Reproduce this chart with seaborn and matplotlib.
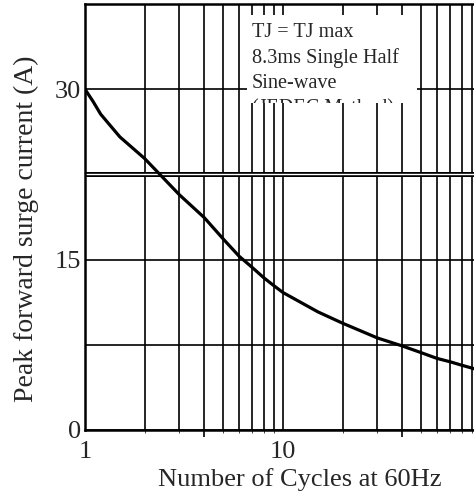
import matplotlib
matplotlib.use("Agg")
import matplotlib.pyplot as plt
import matplotlib.patches as mpatches
import seaborn as sns
import pandas as pd

# Valores
cycles = [1, 1.1, 1.2, 1.5, 2, 3, 4, 5, 6, 7, 8, 9, 10, 15, 20, 30, 40, 50, 60, 70, 80, 90, 100]
current = [30, 28.9, 27.8, 25.8, 23.9, 20.7, 18.7, 16.8, 15.3, 14.3, 13.4, 12.7, 12.1,
           10.4, 9.4, 8.1, 7.4, 6.8, 6.3, 6.0, 5.7, 5.45, 5.2]
y_ticks = [0, 15, 30]
x_ticks = [1, 10, 100]
x_labels = ["1", "10", ""]
note_lines = ["TJ = TJ max", "8.3ms Single Half", "Sine-wave", "(JEDEC Method)"]

sns.set_style("white")
plt.rcParams["font.family"] = ["Liberation Serif", "DejaVu Serif"]

df = pd.DataFrame({"Cycles": cycles, "Current": current})

fig = plt.figure(figsize=(4.74, 4.99), dpi=100)
ax = fig.add_axes([85 / 474, 69 / 499, 396 / 474, 426 / 499])

sns.lineplot(data=df, x="Cycles", y="Current", color="black", linewidth=2.3, ax=ax, zorder=5)

ax.set_xscale("log")
ax.set_xlim(1, 100)
ax.set_ylim(0, 37.5)

# grade
minor = [m * d for d in (1, 10) for m in range(2, 10)]
ax.set_xticks(x_ticks)
ax.set_xticklabels(x_labels)
ax.set_xticks(minor, minor=True)
ax.set_xticklabels([], minor=True)
ax.set_yticks(y_ticks)
ax.set_yticks([7.5, 22.5], minor=True)
ax.grid(True, which="both", color="black", linewidth=1.2)
ax.tick_params(which="both", length=0, labelsize=19)
ax.tick_params(axis="x", pad=8)
ax.tick_params(axis="y", pad=3)
ax.axhline(22.5, color="black", linewidth=3.6, zorder=1)
ax.axhline(22.5, color="white", linewidth=1.0, zorder=1.5)

# marcas em 4 e 40
sec = ax.secondary_xaxis("bottom")
sec.set_xticks([4, 40])
sec.set_xticklabels([])
sec.tick_params(length=5, width=1.2, direction="out", color="black")
sec.spines["bottom"].set_visible(False)

for side in ["left", "bottom", "top"]:
    ax.spines[side].set_color("black")
    ax.spines[side].set_linewidth(1.8)
ax.spines["right"].set_visible(False)

ax.set_xlabel("Number of Cycles at 60Hz", fontsize=19)
ax.set_ylabel("Peak forward surge current (A)", fontsize=20)
ax.xaxis.set_label_coords((300 - 85) / 396, -(468 - 430) / 426)
ax.yaxis.set_label_coords(-(85 - 39) / 396, (430 - 229) / 426)

# caixa de texto
box = mpatches.Rectangle((162 / 396, 327 / 426), 170 / 396, 88 / 426, transform=ax.transAxes,
                         facecolor="white", edgecolor="none", zorder=3)
ax.add_patch(box)
for i, line in enumerate(note_lines):
    t = ax.text(167 / 396, (393 - i * 25.5) / 426, line, transform=ax.transAxes,
                fontsize=14.6, va="baseline", ha="left", zorder=4)
    t.set_clip_on(True)
    t.set_clip_path(box)

plt.savefig("out.png", dpi=100)
